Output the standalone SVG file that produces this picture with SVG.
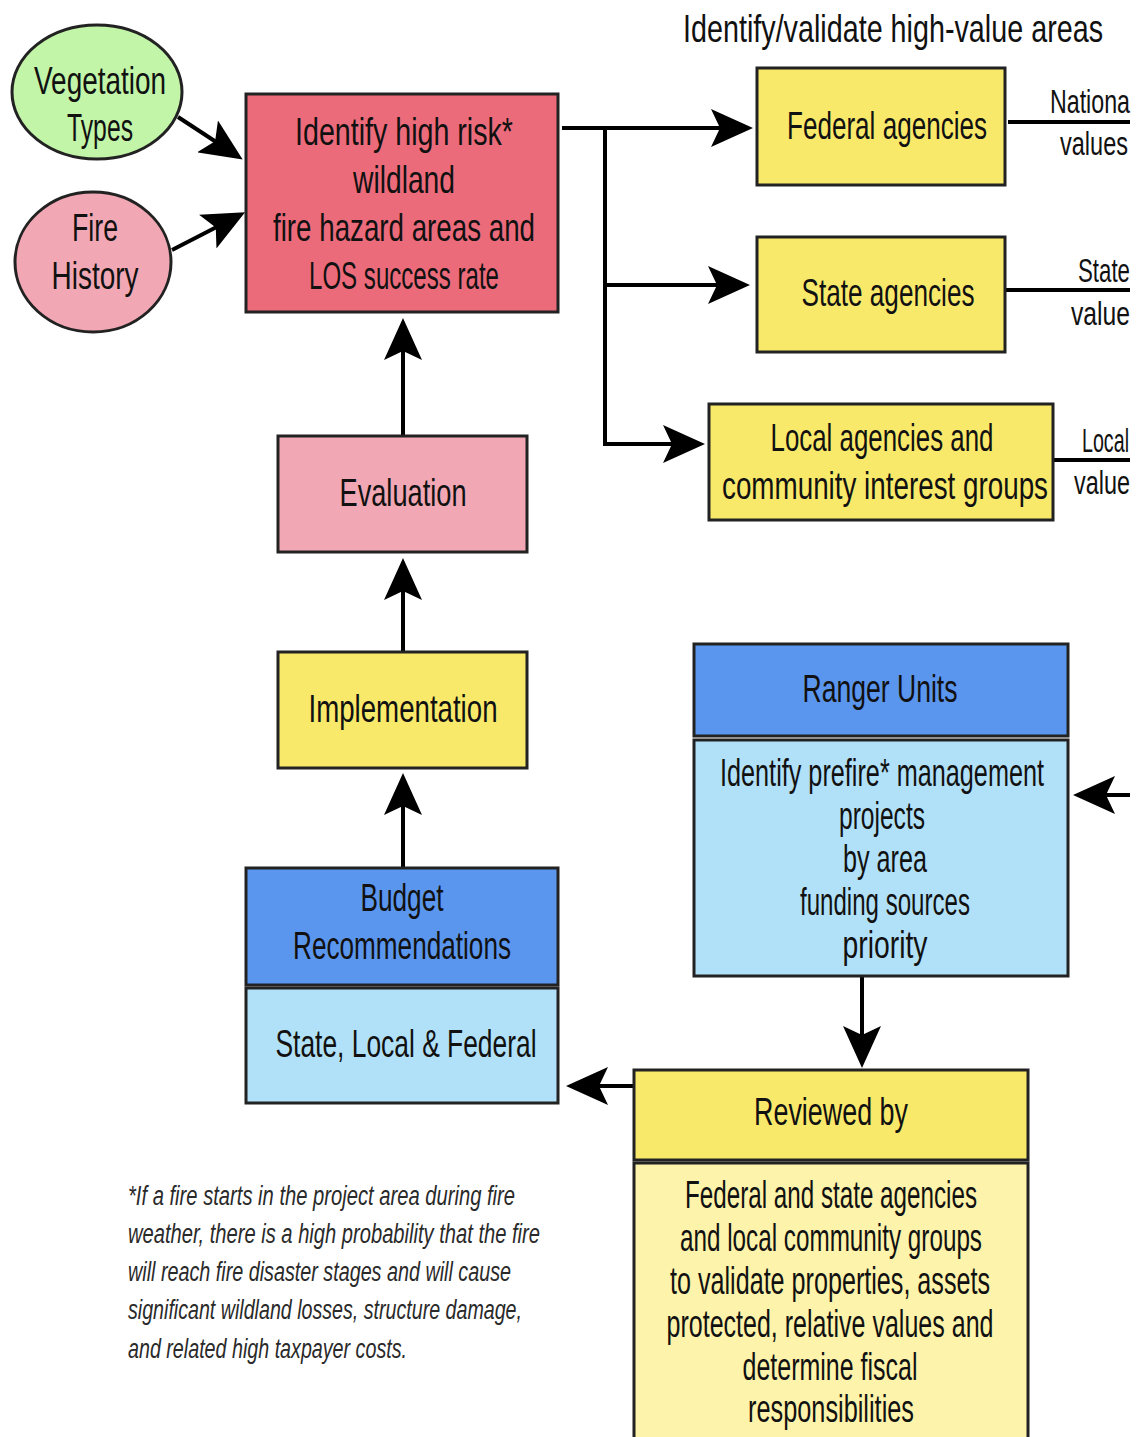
<svg xmlns="http://www.w3.org/2000/svg" width="1145" height="1437" viewBox="0 0 1145 1437">
<style>
  .t { font-family: "Liberation Sans Narrow", "Liberation Sans", "DejaVu Sans", sans-serif; font-size: 33px; fill: #111; text-anchor: middle; }
  .ti { font-family: "Liberation Sans Narrow", "Liberation Sans", "DejaVu Sans", sans-serif; font-size: 29px; fill: #111; text-anchor: middle; }
  .e { font-family: "Liberation Sans Narrow", "Liberation Sans", "DejaVu Sans", sans-serif; font-size: 25px; fill: #111; text-anchor: start; }
  .fn { font-family: "Liberation Sans Narrow", "Liberation Sans", sans-serif; font-style: italic; font-size: 25px; fill: #2a2a2a; text-anchor: start; }
  .box { stroke: #222; stroke-width: 3; }
  .red { fill: #ec6b7b; }
  .pink { fill: #f2a8b4; }
  .green { fill: #c2f5a8; }
  .yellow { fill: #f9e96a; }
  .lyellow { fill: #fdf3aa; }
  .blue { fill: #5b96ee; }
  .lblue { fill: #b1e1f8; }
  .c { fill: none; stroke: #000; stroke-width: 4; }
</style>
<defs>
  <marker id="ah" markerUnits="userSpaceOnUse" markerWidth="42" markerHeight="38" refX="34" refY="19" orient="auto">
    <path d="M0,0 L42,19 L0,38 L9,19 z" fill="#000"/>
  </marker>
</defs>
<rect x="0" y="0" width="1145" height="1437" fill="#fff"/>

<text class="ti" transform="translate(893,42) scale(1,1.34)" textLength="420" lengthAdjust="spacingAndGlyphs">Identify/validate high-value areas</text>

<g id="connectors">
  <path class="c" d="M178,117 L236,155" marker-end="url(#ah)"/>
  <path class="c" d="M172,250 L238,216" marker-end="url(#ah)"/>
  <path class="c" d="M562,128 H745" marker-end="url(#ah)"/>
  <path class="c" d="M605,128 V444 H697" marker-end="url(#ah)"/>
  <path class="c" d="M605,285 H742" marker-end="url(#ah)"/>
  <path class="c" d="M403,436 V326" marker-end="url(#ah)"/>
  <path class="c" d="M403,652 V566" marker-end="url(#ah)"/>
  <path class="c" d="M403,868 V781" marker-end="url(#ah)"/>
  <path class="c" d="M1130,795 H1081" marker-end="url(#ah)"/>
  <path class="c" d="M862,977 V1060" marker-end="url(#ah)"/>
  <path class="c" d="M634,1086 H574" marker-end="url(#ah)"/>
  <path class="c" d="M1008,122 H1130"/>
  <path class="c" d="M1005,290 H1130"/>
  <path class="c" d="M1053,460 H1130"/>
</g>

<g id="edge-labels">
  <text class="e" transform="translate(1050,113) scale(1,1.36)" textLength="80" lengthAdjust="spacingAndGlyphs">Nationa</text>
  <text class="e" transform="translate(1060,155) scale(1,1.36)" textLength="68" lengthAdjust="spacingAndGlyphs">values</text>
  <text class="e" transform="translate(1078,282) scale(1,1.36)" textLength="52" lengthAdjust="spacingAndGlyphs">State</text>
  <text class="e" transform="translate(1071,325) scale(1,1.36)" textLength="59" lengthAdjust="spacingAndGlyphs">value</text>
  <text class="e" transform="translate(1082,452) scale(1,1.36)" textLength="47" lengthAdjust="spacingAndGlyphs">Local</text>
  <text class="e" transform="translate(1074,494) scale(1,1.36)" textLength="56" lengthAdjust="spacingAndGlyphs">value</text>
</g>

<g id="vegetation">
  <ellipse class="box green" cx="97" cy="92" rx="85" ry="67"/>
  <text class="t" transform="translate(100,94) scale(1,1.18)" textLength="132" lengthAdjust="spacingAndGlyphs">Vegetation</text>
  <text class="t" transform="translate(100,141) scale(1,1.18)" textLength="66" lengthAdjust="spacingAndGlyphs">Types</text>
</g>

<g id="fire-history">
  <ellipse class="box pink" cx="93" cy="262" rx="78" ry="70"/>
  <text class="t" transform="translate(95,241) scale(1,1.18)" textLength="46" lengthAdjust="spacingAndGlyphs">Fire</text>
  <text class="t" transform="translate(95,289) scale(1,1.18)" textLength="87" lengthAdjust="spacingAndGlyphs">History</text>
</g>

<g id="high-risk">
  <rect class="box red" x="246" y="94" width="312" height="218"/>
  <text class="t" transform="translate(404,145) scale(1,1.18)" textLength="218" lengthAdjust="spacingAndGlyphs">Identify high risk*</text>
  <text class="t" transform="translate(404,193) scale(1,1.18)" textLength="102" lengthAdjust="spacingAndGlyphs">wildland</text>
  <text class="t" transform="translate(404,241) scale(1,1.18)" textLength="262" lengthAdjust="spacingAndGlyphs">fire hazard areas and</text>
  <text class="t" transform="translate(404,289) scale(1,1.18)" textLength="190" lengthAdjust="spacingAndGlyphs">LOS success rate</text>
</g>

<g id="federal">
  <rect class="box yellow" x="757" y="68" width="248" height="117"/>
  <text class="t" transform="translate(887,139) scale(1,1.18)" textLength="200" lengthAdjust="spacingAndGlyphs">Federal agencies</text>
</g>

<g id="state">
  <rect class="box yellow" x="757" y="237" width="248" height="115"/>
  <text class="t" transform="translate(888,306) scale(1,1.18)" textLength="173" lengthAdjust="spacingAndGlyphs">State agencies</text>
</g>

<g id="local">
  <rect class="box yellow" x="709" y="404" width="344" height="116"/>
  <text class="t" transform="translate(882,451) scale(1,1.18)" textLength="223" lengthAdjust="spacingAndGlyphs">Local agencies and</text>
  <text class="t" transform="translate(885,499) scale(1,1.18)" textLength="326" lengthAdjust="spacingAndGlyphs">community interest groups</text>
</g>

<g id="evaluation">
  <rect class="box pink" x="278" y="436" width="249" height="116"/>
  <text class="t" transform="translate(403,506) scale(1,1.18)" textLength="127" lengthAdjust="spacingAndGlyphs">Evaluation</text>
</g>

<g id="implementation">
  <rect class="box yellow" x="278" y="652" width="249" height="116"/>
  <text class="t" transform="translate(403,722) scale(1,1.18)" textLength="189" lengthAdjust="spacingAndGlyphs">Implementation</text>
</g>

<g id="budget">
  <rect class="box blue" x="246" y="868" width="312" height="117"/>
  <rect class="box lblue" x="246" y="988" width="312" height="115"/>
  <text class="t" transform="translate(402,911) scale(1,1.18)" textLength="83" lengthAdjust="spacingAndGlyphs">Budget</text>
  <text class="t" transform="translate(402,959) scale(1,1.18)" textLength="218" lengthAdjust="spacingAndGlyphs">Recommendations</text>
  <text class="t" transform="translate(406,1057) scale(1,1.18)" textLength="261" lengthAdjust="spacingAndGlyphs">State, Local &amp; Federal</text>
</g>

<g id="ranger">
  <rect class="box blue" x="694" y="644" width="374" height="92"/>
  <rect class="box lblue" x="694" y="740" width="374" height="236"/>
  <text class="t" transform="translate(880,702) scale(1,1.18)" textLength="155" lengthAdjust="spacingAndGlyphs">Ranger Units</text>
  <text class="t" transform="translate(882,786) scale(1,1.18)" textLength="324" lengthAdjust="spacingAndGlyphs">Identify prefire* management</text>
  <text class="t" transform="translate(882,829) scale(1,1.18)" textLength="86" lengthAdjust="spacingAndGlyphs">projects</text>
  <text class="t" transform="translate(885,872) scale(1,1.18)" textLength="84" lengthAdjust="spacingAndGlyphs">by area</text>
  <text class="t" transform="translate(885,915) scale(1,1.18)" textLength="170" lengthAdjust="spacingAndGlyphs">funding sources</text>
  <text class="t" transform="translate(885,958) scale(1,1.18)" textLength="85" lengthAdjust="spacingAndGlyphs">priority</text>
</g>

<g id="reviewed">
  <rect class="box yellow" x="634" y="1070" width="394" height="90"/>
  <rect class="box lyellow" x="634" y="1163" width="394" height="280"/>
  <text class="t" transform="translate(831,1125) scale(1,1.18)" textLength="154" lengthAdjust="spacingAndGlyphs">Reviewed by</text>
  <text class="t" transform="translate(831,1208) scale(1,1.18)" textLength="292" lengthAdjust="spacingAndGlyphs">Federal and state agencies</text>
  <text class="t" transform="translate(831,1251) scale(1,1.18)" textLength="302" lengthAdjust="spacingAndGlyphs">and local community groups</text>
  <text class="t" transform="translate(830,1294) scale(1,1.18)" textLength="320" lengthAdjust="spacingAndGlyphs">to validate properties, assets</text>
  <text class="t" transform="translate(830,1337) scale(1,1.18)" textLength="327" lengthAdjust="spacingAndGlyphs">protected, relative values and</text>
  <text class="t" transform="translate(830,1380) scale(1,1.18)" textLength="175" lengthAdjust="spacingAndGlyphs">determine fiscal</text>
  <text class="t" transform="translate(831,1422) scale(1,1.18)" textLength="166" lengthAdjust="spacingAndGlyphs">responsibilities</text>
</g>

<g id="footnote">
  <text class="fn" transform="translate(128,1205) scale(1,1.08)" textLength="387" lengthAdjust="spacingAndGlyphs">*If a fire starts in the project area during fire</text>
  <text class="fn" transform="translate(128,1243) scale(1,1.08)" textLength="412" lengthAdjust="spacingAndGlyphs">weather, there is a high probability that the fire</text>
  <text class="fn" transform="translate(128,1281) scale(1,1.08)" textLength="383" lengthAdjust="spacingAndGlyphs">will reach fire disaster stages and will cause</text>
  <text class="fn" transform="translate(128,1319) scale(1,1.08)" textLength="394" lengthAdjust="spacingAndGlyphs">significant wildland losses, structure damage,</text>
  <text class="fn" transform="translate(128,1358) scale(1,1.08)" textLength="279" lengthAdjust="spacingAndGlyphs">and related high taxpayer costs.</text>
</g>
</svg>
